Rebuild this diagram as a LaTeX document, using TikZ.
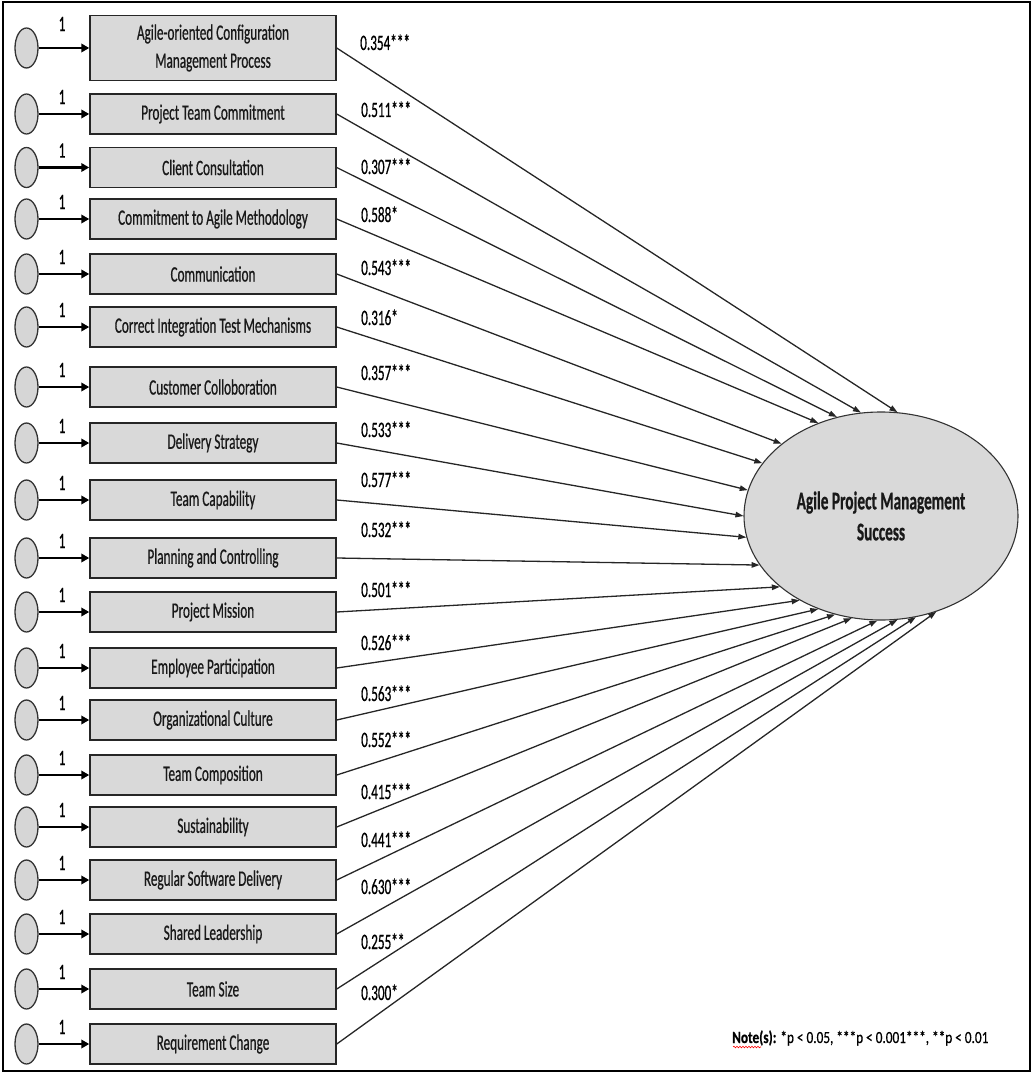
\documentclass[tikz,border=0pt]{standalone}
\usepackage{fontspec}
\setmainfont[FakeStretch=0.6, FakeBold=0.6]{Carlito}
\newfontfamily\notefont[FakeStretch=0.78, FakeBold=0.5]{Carlito}
\usetikzlibrary{arrows.meta,shapes.geometric,decorations.pathmorphing}
\tikzset{
  itembox/.style={draw=black!85, line width=1.5pt, fill=gray!30, minimum width=246pt, minimum height=40pt, inner sep=0pt, font=\fontsize{22}{28}\selectfont, align=center, text=black!90},
  errnode/.style={draw=black!80, line width=1.3pt, fill=gray!32, ellipse, minimum width=23pt, minimum height=40pt, inner sep=0pt},
  loadarrow/.style={line width=2.8pt, -{Triangle[length=8pt,width=8.5pt]}},
  patharrow/.style={line width=1.3pt, draw=black!85, -{Triangle[length=8pt,width=5.5pt]}},
  onelab/.style={font=\fontsize{22}{24}\selectfont, inner sep=0pt},
  coef/.style={font=\fontsize{22}{24}\selectfont, inner sep=0pt, anchor=base west},
  target/.style={draw=black!80, line width=1.1pt, fill=gray!30, ellipse, minimum width=274pt, minimum height=208pt, inner sep=0pt, align=center, font=\fontsize{25.5}{31}\selectfont\bfseries, text=black!90}
}
\begin{document}
\begin{tikzpicture}[x=1pt,y=-1pt]
\useasboundingbox (0,0) rectangle (1033,1075);
\draw[line width=1.5pt] (3,2) rectangle (1030,1071);

\node[target] (apm) at (881,516) {Agile Project Management\\Success};

% row 1
\node[itembox, minimum height=65pt] (b1) at (213,48) {Agile-oriented Configuration\\Management Process};
\node[errnode] (c1) at (26.5,48) {};
\draw[loadarrow] (c1) -- (b1);
\node[onelab] (o1) at (62,24) {1};
\node[coef] (k1) at (360,50) {0.354***};
\draw[patharrow] (b1.east) -- (apm.81);

% rows 2..19
\foreach \i/\y/\txt/\cv/\cy/\ang in {
  2/114/Project Team Commitment/0.511***/110/101,
  3/167.5/Client Consultation/0.307***/167/114,
  4/219/Commitment to Agile Methodology/0.588*/215/124,
  5/274/Communication/0.543***/268/144,
  6/327/Correct Integration Test Mechanisms/0.316*/318/156,
  7/387/Customer Colloboration/0.357***/373/169,
  8/443/Delivery Strategy/0.533***/430/180,
  9/500/Team Capability/0.577***/480/189,
  10/558/Planning and Controlling/0.532***/530/202,
  11/612/Project Mission/0.501***/590/215,
  12/668/Employee Participation/0.526***/643/226,
  13/720/Organizational Culture/0.563***/694/236,
  14/775/Team Composition/0.552***/740/245,
  15/827/Sustainability/0.415***/792/254,
  16/880/Regular Software Delivery/0.441***/840/268,
  17/934/Shared Leadership/0.630***/887/279,
  18/989/Team Size/0.255**/942/289,
  19/1044/Requirement Change/0.300*/993/300}{
  \node[itembox] (b\i) at (213,\y) {\txt};
  \node[errnode] (c\i) at (26.5,\y) {};
  \draw[loadarrow] (c\i) -- (b\i);
  \node[onelab] (o\i) at (62,\y-17) {1};
  \node[coef] (k\i) at (361,\cy+7) {\cv};
  \draw[patharrow] (b\i.east) -- (apm.\ang);
}

\node[anchor=base west, inner sep=0pt, font=\notefont\fontsize{17}{20}\selectfont] (note) at (732,1043) {\textbf{Note(s):} *p < 0.05, ***p < 0.001***, **p < 0.01};
\draw[red, line width=0.6pt, decorate, decoration={snake, amplitude=0.8pt, segment length=3pt}] ([shift={(1,4)}]note.base west) -- ++(28,0);
\end{tikzpicture}
\end{document}
